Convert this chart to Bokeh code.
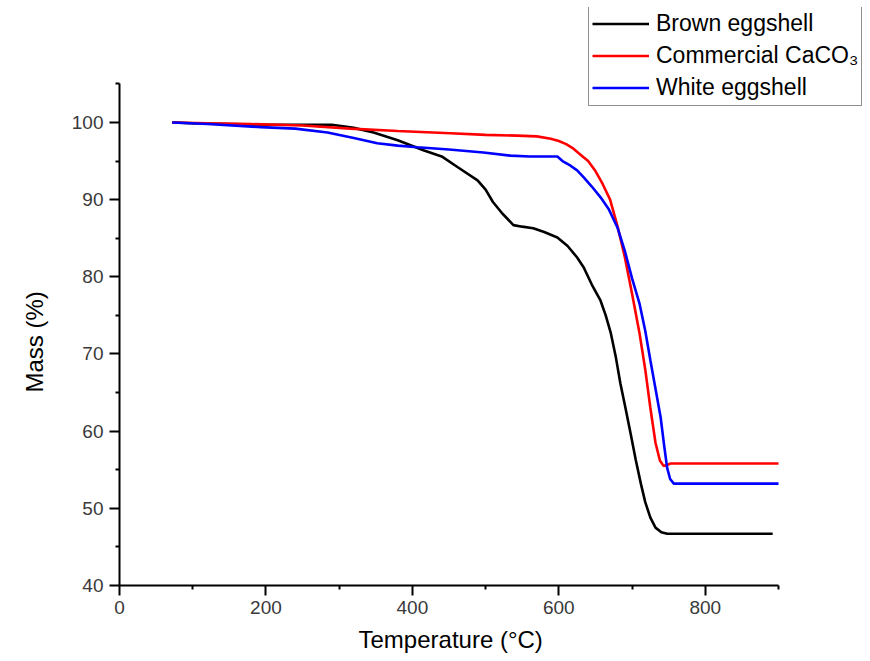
from bokeh.plotting import figure
from bokeh.models import FixedTicker, Legend, LegendItem, Range1d, Title
from bokeh.embed import file_html
from bokeh.resources import INLINE

# ---- data ----
brown_T = [72, 100, 150, 200, 250, 290, 320, 347, 380, 415, 440, 462, 489, 500, 510, 522, 538, 550, 565, 580, 598,
           612, 625, 634, 645, 657, 664, 671, 678, 684, 691, 698, 705, 712, 718, 725, 732, 740, 748, 800, 850, 892]
brown_M = [100, 99.9, 99.8, 99.7, 99.7, 99.7, 99.3, 98.7, 97.7, 96.4, 95.6, 94.2, 92.5, 91.3, 89.7, 88.3, 86.7, 86.5, 86.3, 85.8, 85.1,
           84.0, 82.5, 81.2, 79.0, 76.9, 75.0, 72.7, 69.5, 66.2, 63.0, 59.7, 56.3, 53.2, 50.8, 48.8, 47.5, 46.9, 46.7, 46.7, 46.7, 46.7]

red_T = [72, 120, 179, 250, 315, 380, 452, 500, 543, 570, 589, 600, 610, 620, 630, 640, 650, 660, 670, 680,
         690, 700, 710, 718, 725, 732, 738, 743, 748, 752, 800, 850, 900]
red_M = [100, 99.9, 99.8, 99.6, 99.2, 98.9, 98.6, 98.4, 98.3, 98.2, 97.9, 97.6, 97.2, 96.6, 95.8, 95.0, 93.7, 92.0, 90.0, 86.6,
         82.6, 77.8, 72.8, 68.0, 63.0, 58.5, 56.2, 55.5, 55.6, 55.8, 55.8, 55.8, 55.8]

blue_T = [72, 120, 193, 240, 284, 320, 352, 380, 407, 450, 497, 534, 560, 598, 605, 616, 625, 634, 645, 657, 668, 680,
          690, 700, 710, 718, 725, 732, 739, 744, 748, 752, 757, 800, 850, 900]
blue_M = [100, 99.8, 99.4, 99.2, 98.7, 98.0, 97.3, 97.0, 96.8, 96.5, 96.1, 95.7, 95.6, 95.6, 95.0, 94.4, 93.8, 92.9, 91.7, 90.3, 88.8, 86.4,
          83.4, 79.8, 76.6, 73.0, 69.2, 65.5, 61.8, 58.0, 55.2, 53.8, 53.2, 53.2, 53.2, 53.2]

series_names = ["Brown eggshell", "Commercial CaCO\u2083", "White eggshell"]
series_colors = ["black", "red", "blue"]
x_title = "Temperature (\u00b0C)"
y_title = "Mass (%)"

x_major = [0, 200, 400, 600, 800]
x_minor = [100, 300, 500, 700, 900]
y_major = [40, 50, 60, 70, 80, 90, 100]
y_minor = [45, 55, 65, 75, 85, 95, 105]
x_bounds = (0, 900)
y_bounds = (40, 105)

FONT = "Liberation Sans"

# frame extends beyond the axes' bounds so the legend can sit in the top-right corner
p = figure(width=868, height=661, output_backend="svg", toolbar_location=None,
           x_range=Range1d(0, 1022.9), y_range=Range1d(40, 114.9),
           min_border_left=119, min_border_right=0, min_border_top=7, min_border_bottom=76)
p.outline_line_color = None
p.xgrid.visible = False
p.ygrid.visible = False
p.background_fill_color = "white"
p.border_fill_color = "white"

r1 = p.line(brown_T, brown_M, line_color=series_colors[0], line_width=2.6)
r2 = p.line(red_T, red_M, line_color=series_colors[1], line_width=2.6)
r3 = p.line(blue_T, blue_M, line_color=series_colors[2], line_width=2.6)

p.xaxis.ticker = FixedTicker(ticks=x_major, minor_ticks=x_minor)
p.yaxis.ticker = FixedTicker(ticks=y_major, minor_ticks=y_minor)
p.xaxis.bounds = x_bounds
p.yaxis.bounds = y_bounds
for ax in (p.xaxis[0], p.yaxis[0]):
    ax.axis_line_width = 2
    ax.axis_line_color = "black"
    ax.major_tick_line_width = 2
    ax.minor_tick_line_width = 2
    ax.major_tick_line_color = "black"
    ax.minor_tick_line_color = "black"
    ax.major_tick_in = 0
    ax.major_tick_out = 10
    ax.minor_tick_in = 0
    ax.minor_tick_out = 4
    ax.major_label_text_font = FONT
    ax.major_label_text_font_size = "19px"
    ax.major_label_text_color = "#3a3a3a"
p.xaxis.major_label_standoff = 5
p.yaxis.major_label_standoff = 6

# axis titles as side-panel titles, aligned to the axes' bounds
xt = Title(text=x_title, align="left", offset=239, standoff=15,
           text_font=FONT, text_font_size="24px", text_font_style="normal", text_color="black")
yt = Title(text=y_title, align="left", offset=193, standoff=38, vertical_align="top",
           text_font=FONT, text_font_size="24px", text_font_style="normal", text_color="black")
p.add_layout(xt, "below")
p.add_layout(yt, "left")

legend = Legend(items=[LegendItem(label=series_names[0], renderers=[r1]),
                       LegendItem(label=series_names[1], renderers=[r2]),
                       LegendItem(label=series_names[2], renderers=[r3])],
                location=(469, 479))
legend.label_text_font = FONT
legend.label_text_font_size = "23px"
legend.label_text_color = "black"
legend.glyph_width = 57
legend.glyph_height = 29
legend.label_height = 29
legend.label_standoff = 7
legend.spacing = 3
legend.padding = 3
legend.margin = 0
legend.border_line_color = "#222222"
legend.border_line_width = 1
legend.background_fill_alpha = 1
p.add_layout(legend, "center")

open("out.html", "w").write(file_html(p, INLINE))
